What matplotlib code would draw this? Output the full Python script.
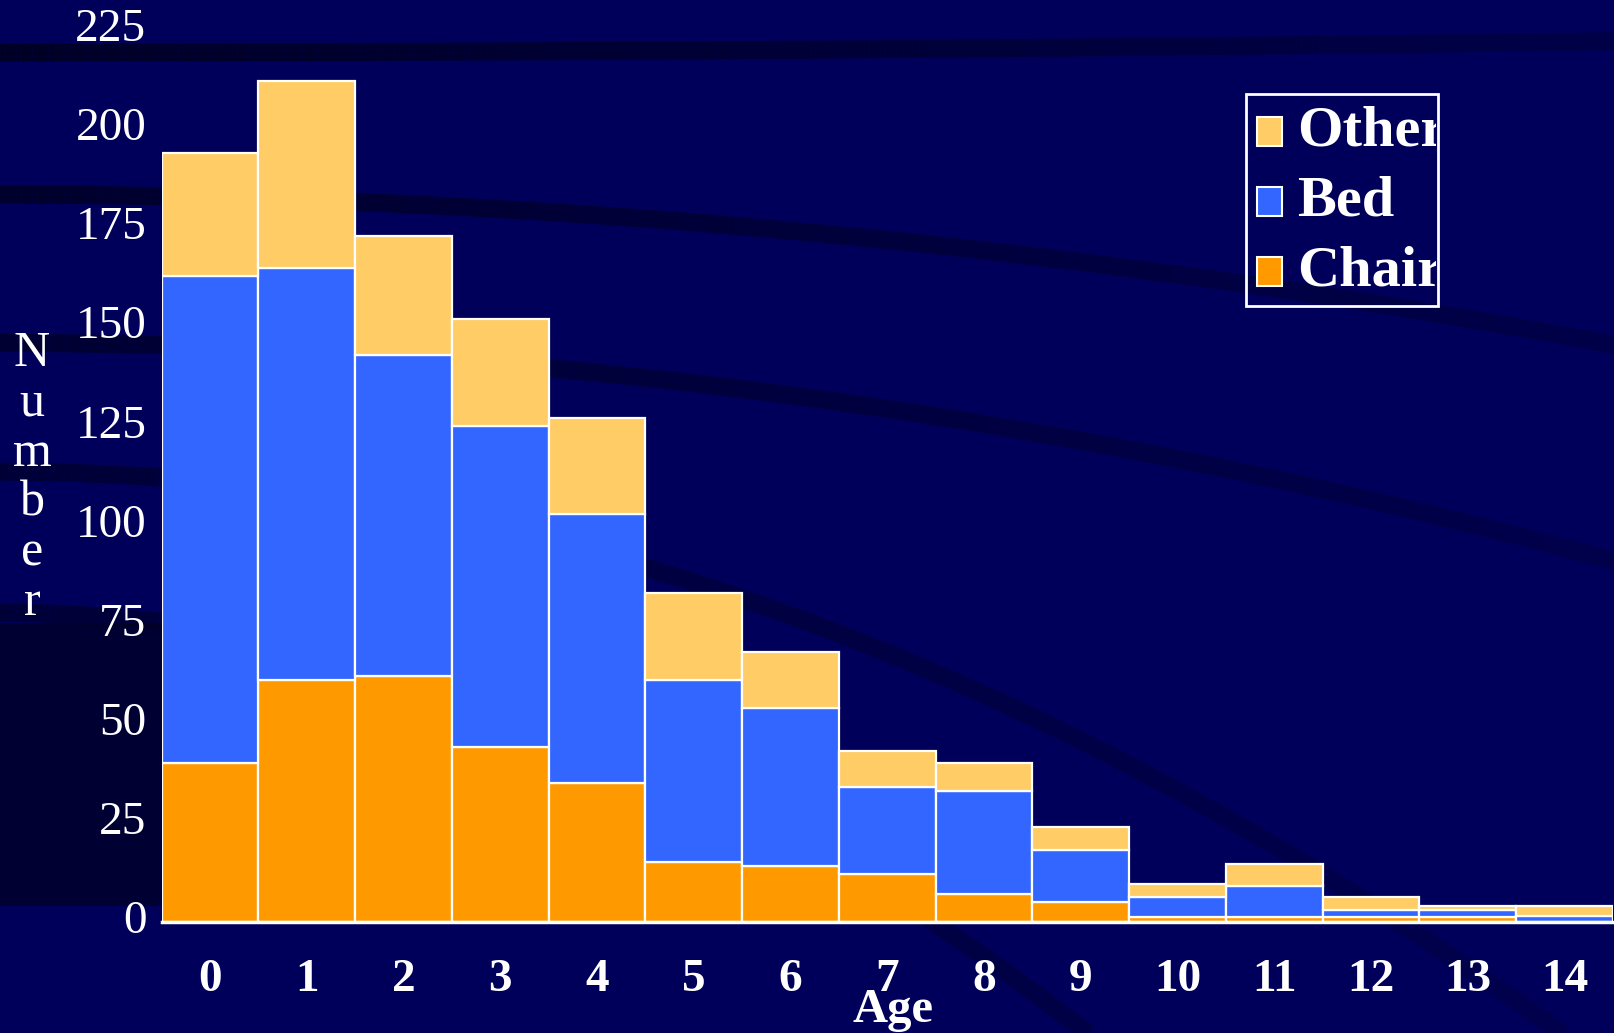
import numpy as np
import matplotlib
matplotlib.use('Agg')
import matplotlib.pyplot as plt
from matplotlib.patches import Rectangle
from matplotlib.collections import LineCollection
from matplotlib.transforms import Bbox, TransformedBbox, ScaledTranslation

plt.rcParams['font.family'] = ['Liberation Serif', 'DejaVu Serif']

# data
ages = list(range(15))
chair = [40, 61, 62, 44, 35, 15, 14, 12, 7, 5, 1.3, 1.3, 1.3, 1.3, 0]
bed = [123, 104, 81, 81, 68, 46, 40, 22, 26, 13, 5, 7.6, 1.7, 1.7, 1.5]
other = [31, 47, 30, 27, 24, 22, 14, 9, 7, 6, 3.2, 5.6, 3.2, 1.0, 2.5]
series = ['Other', 'Bed', 'Chair']
colors = {'Other': '#FFCC66', 'Bed': '#3366FF', 'Chair': '#FF9900'}
yticks = [0, 25, 50, 75, 100, 125, 150, 175, 200, 225]

bgcol = '#00005A'
fig = plt.figure(figsize=(16.15, 10.33), dpi=100, facecolor=bgcol)

# background decoration: dark curved stripes (pixel coords of the slide)
bg = fig.add_axes([0, 0, 1, 1], zorder=-5)
bg.set_xlim(0, 1568)
bg.set_ylim(1003, 0)
bg.axis('off')
bg.set_facecolor(bgcol)
xs = np.linspace(0, 1568, 300)
fade = np.linspace(1.0, 0.35, len(xs) - 1)
for y0, y1, a in [(51, 40, 0.9), (189, 335, 0.8), (333, 545, 0.7),
                  (458, 1041, 0.6), (595, 1495, 0.6)]:
    ys = y0 + (y1 - y0) * (xs / 1568) ** 2
    pts = np.column_stack([xs, ys]).reshape(-1, 1, 2)
    segs = np.concatenate([pts[:-1], pts[1:]], axis=1)
    cols = [(0, 0, 0.13, a * f) for f in fade]
    bg.add_collection(LineCollection(segs, colors=cols, linewidths=13, capstyle='butt'))
bg.fill_between(xs[xs < 200], 605, 880, color='#000028', alpha=0.8, lw=0)

ax = fig.add_axes([0.1001, 0.1077, 0.8986, 0.8633])
ax.set_facecolor('none')

bottom = np.zeros(len(ages))
for name, vals in [('Chair', chair), ('Bed', bed), ('Other', other)]:
    ax.bar(ages, vals, width=1.0, bottom=bottom, color=colors[name],
           edgecolor='white', linewidth=1.6, label=name)
    bottom += np.array(vals)

ax.set_xlim(-0.5, 14.5)
ax.set_ylim(0, 225)
ax.set_yticks(yticks)
ax.set_yticklabels([str(v) for v in yticks], fontsize=34, color='white')
ax.set_xticks(ages)
ax.set_xticklabels([str(a) for a in ages], fontsize=34, color='white', fontweight='bold')
ax.tick_params(axis='y', length=0, pad=11)
ax.tick_params(axis='x', length=0, pad=27)
up = ScaledTranslation(0, 5 / 100, fig.dpi_scale_trans)
for lab in ax.get_yticklabels():
    lab.set_transform(lab.get_transform() + up)
for s in ['left', 'right', 'top']:
    ax.spines[s].set_visible(False)
ax.spines['bottom'].set_color('white')
ax.spines['bottom'].set_linewidth(2.5)

# axis titles
fig.text(0.553, 0.0106, 'Age', fontsize=35, fontweight='bold', color='white',
         ha='center', va='baseline')
for i, ch in enumerate('Number'):
    fig.text(0.0198, 1 - (366 + 49.8 * i) / 1033, ch, fontsize=36, color='white',
             ha='center', va='baseline')

# legend box with clipped labels
lx0, lx1 = 1246 / 1615, 1438 / 1615
ly0, ly1 = 1 - 306 / 1033, 1 - 94 / 1033
frame = Rectangle((lx0, ly0), lx1 - lx0, ly1 - ly0, transform=fig.transFigure,
                  facecolor='none', edgecolor='white', linewidth=2, zorder=10)
fig.patches.append(frame)
clip = TransformedBbox(Bbox([[lx0, ly0], [lx1 - 2 / 1615, ly1]]), fig.transFigure)
for i, name in enumerate(series):
    base = 146 + 70 * i
    fig.patches.append(Rectangle((1257 / 1615, 1 - base / 1033), 25 / 1615, 29 / 1033,
                                 transform=fig.transFigure, facecolor=colors[name],
                                 edgecolor='white', linewidth=1.5, zorder=10))
    t = fig.text(1297 / 1615, 1 - base / 1033, name, fontsize=42, fontweight='bold',
                 color='white', ha='left', va='baseline', zorder=10)
    t.set_clip_on(True)
    t.set_clip_box(clip)

fig.savefig('out.png', dpi=100, facecolor=bgcol)
